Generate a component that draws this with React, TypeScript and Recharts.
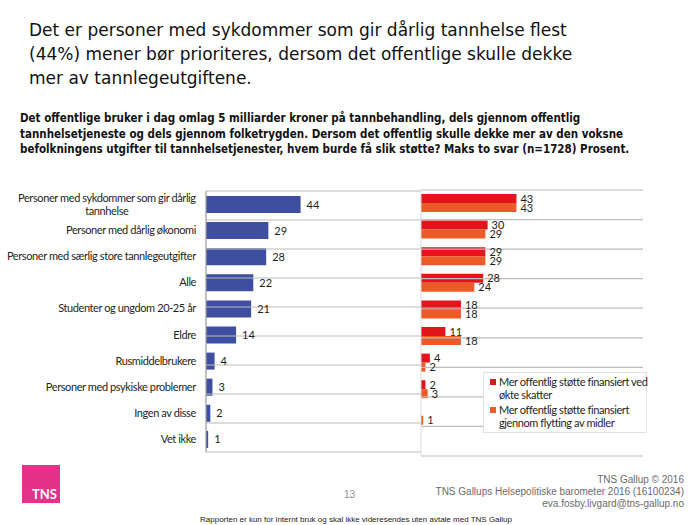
import { BarChart, Bar, XAxis, YAxis, LabelList, Legend, ReferenceLine } from 'recharts';

// kategorier (øverst til nederst)
const categories = [
  'Personer med sykdommer som gir dårlig\ntannhelse',
  'Personer med dårlig økonomi',
  'Personer med særlig store tannlegeutgifter',
  'Alle',
  'Studenter og ungdom 20-25 år',
  'Eldre',
  'Rusmiddelbrukere',
  'Personer med psykiske problemer',
  'Ingen av disse',
  'Vet ikke',
];

// venstre diagram: alle (prosent)
const totalValues = [44, 29, 28, 22, 21, 14, 4, 3, 2, 1];

// høyre diagram: etter finansieringsform
const skatterValues = [43, 30, 29, 28, 18, 11, 4, 2, null, null];
const flyttingValues = [43, 29, 29, 24, 18, 18, 2, 3, 1, null];

const seriesNames = [
  'Mer offentlig støtte finansiert ved\nøkte skatter',
  'Mer offentlig støtte finansiert\ngjennom flytting av midler',
];

const titleLines = [
  'Det er personer med sykdommer som gir dårlig tannhelse flest',
  '(44%) mener bør prioriteres, dersom det offentlige skulle dekke',
  'mer av tannlegeutgiftene.',
];

const subtitleLines = [
  'Det offentlige bruker i dag omlag 5 milliarder kroner på tannbehandling, dels gjennom offentlig',
  'tannhelsetjeneste og dels gjennom folketrygden. Dersom det offentlig skulle dekke mer av den voksne',
  'befolkningens utgifter til tannhelsetjenester, hvem burde få slik støtte? Maks to svar (n=1728) Prosent.',
];

const footerLines = [
  'TNS Gallup © 2016',
  'TNS Gallups Helsepolitiske barometer 2016 (16100234)',
  'eva.fosby.livgard@tns-gallup.no',
];

const leftData = categories.map((name, i) => ({ name, total: totalValues[i] }));
const rightData = categories.map((name, i) => ({
  name,
  skatter: skatterValues[i],
  flytting: flyttingValues[i],
}));
// grenser mellom radene (0 = øverst, 10 = nederst)
const rowBounds = [0, ...categories.map((_c, i) => i + 1)];

const BLUE = '#3e4fa2';
const RED = '#e2141c';
const ORANGE = '#ec5a27';
const GRID = '#bcbcbc';
const LABEL_FONT = 'Lato, "Open Sans", sans-serif';
const LABEL_SIZE = 11;
const LABEL_SPACING = -0.4;

let ctx: CanvasRenderingContext2D | null = null;
function measure(text: string) {
  if (!ctx) ctx = document.createElement('canvas').getContext('2d');
  if (!ctx) return text.length * 5;
  ctx.font = `${LABEL_SIZE}px Lato`;
  (ctx as any).letterSpacing = `${LABEL_SPACING}px`;
  return ctx.measureText(text).width;
}

function CategoryTick({ x, y, payload }: any) {
  const lines = String(payload.value).split('\n');
  const w = Math.max(...lines.map(measure));
  const cx = x - w / 2;
  const lh = 13;
  return (
    <text
      x={cx}
      y={y}
      textAnchor="middle"
      fontFamily={LABEL_FONT}
      fontSize={LABEL_SIZE}
      letterSpacing={LABEL_SPACING}
      fill="#1e1e1e"
    >
      {lines.map((l, i) => (
        <tspan key={i} x={cx} dy={i === 0 ? -((lines.length - 1) * lh) / 2 + 4 : lh}>
          {l}
        </tspan>
      ))}
    </text>
  );
}

const valueLabel = (gap: number) => (props: any) => {
  const { x, y, width, height, value } = props;
  if (value == null) return null;
  return (
    <text
      x={x + width + gap}
      y={y + height / 2}
      dy={4}
      fontFamily={LABEL_FONT}
      fontSize={LABEL_SIZE}
      fill="#1e1e1e"
    >
      {value}
    </text>
  );
};

const gridLines = () =>
  rowBounds.map((b) => <ReferenceLine key={b} y={b} yAxisId="rows" stroke={GRID} strokeWidth={1.2} ifOverflow="extendDomain" />);

function LegendBox() {
  const colors = [RED, ORANGE];
  return (
    <div
      style={{
        background: '#fff',
        border: '1px solid #e2e2e2',
        padding: '2px 2px 3px 6px',
        fontFamily: LABEL_FONT,
        fontSize: LABEL_SIZE,
        letterSpacing: LABEL_SPACING,
        lineHeight: '13px',
        color: '#1e1e1e',
        textAlign: 'left',
      }}
    >
      {seriesNames.map((n, i) => (
        <div key={n} style={{ display: 'flex', marginTop: i ? 2 : 0 }}>
          <span style={{ width: 6, height: 6, background: colors[i], marginTop: 4, marginRight: 3, flex: 'none' }} />
          <span style={{ whiteSpace: 'pre' }}>{n}</span>
        </div>
      ))}
    </div>
  );
}

export default function App() {
  return (
    <div style={{ position: 'absolute', left: 0, top: 0, width: 700, height: 525, background: '#fff', overflow: 'hidden' }}>
      <div style={{ position: 'absolute', left: 29, top: 18, fontFamily: '"DejaVu Sans", Verdana, sans-serif', fontSize: 17, lineHeight: '24px', color: '#111', whiteSpace: 'nowrap' }}>
        {titleLines.map((l) => (
          <div key={l}>{l}</div>
        ))}
      </div>

      <div style={{ position: 'absolute', left: 20, top: 111, fontFamily: '"DejaVu Sans Condensed", "DejaVu Sans", sans-serif', fontWeight: 'bold', fontSize: 11.5, lineHeight: '15.5px', color: '#111', whiteSpace: 'nowrap' }}>
        {subtitleLines.map((l) => (
          <div key={l}>{l}</div>
        ))}
      </div>

      <div style={{ position: 'absolute', left: 0, top: 181 }}>
        <BarChart width={425} height={281} data={leftData} layout="vertical" margin={{ top: 10, right: 4, bottom: 10, left: 0 }}>
          <XAxis type="number" domain={[0, 100]} hide />
          <YAxis
            type="category"
            dataKey="name"
            width={206}
            tickSize={0}
            tickMargin={10}
            tickLine={false}
            axisLine={{ stroke: '#a0a0a0', strokeWidth: 1.3 }}
            tick={<CategoryTick />}
            interval={0}
          />
          <YAxis yAxisId="rows" type="number" domain={[0, categories.length]} reversed hide />
          {gridLines()}
          <Bar dataKey="total" fill={BLUE} barSize={17} isAnimationActive={false}>
            <LabelList dataKey="total" content={valueLabel(6)} />
          </Bar>
        </BarChart>
      </div>

      <div style={{ position: 'absolute', left: 415, top: 180 }}>
        <BarChart width={238} height={286} data={rightData} layout="vertical" barGap={0} margin={{ top: 10, right: 10, bottom: 10, left: 6 }}>
          <XAxis type="number" domain={[0, 100]} hide />
          <YAxis type="category" dataKey="name" hide />
          <YAxis yAxisId="rows" type="number" domain={[0, categories.length]} reversed hide />
          {gridLines()}
          <ReferenceLine x={0} stroke="#dadada" />
          <Bar dataKey="skatter" name={seriesNames[0]} fill={RED} barSize={9} isAnimationActive={false}>
            <LabelList dataKey="skatter" content={valueLabel(4)} />
          </Bar>
          <Bar dataKey="flytting" name={seriesNames[1]} fill={ORANGE} barSize={9} isAnimationActive={false}>
            <LabelList dataKey="flytting" content={valueLabel(4)} />
          </Bar>
          <Legend
            layout="horizontal"
            verticalAlign="middle"
            align="center"
            content={<LegendBox />}
            wrapperStyle={{ left: 68, top: 192, width: 164, height: 56 }}
          />
        </BarChart>
      </div>

      <div style={{ position: 'absolute', left: 22, top: 465, width: 38, height: 38, background: '#e5318a' }}>
        <span style={{ position: 'absolute', right: 3, bottom: 1, color: '#fff', fontFamily: LABEL_FONT, fontWeight: 'bold', fontSize: 13 }}>TNS</span>
      </div>

      <div style={{ position: 'absolute', left: 344, top: 489, fontFamily: '"Liberation Sans", Arial, sans-serif', fontSize: 10, color: '#8a8a8a' }}>13</div>

      <div style={{ position: 'absolute', right: 16, top: 474, textAlign: 'right', fontFamily: '"Liberation Sans", Arial, sans-serif', fontSize: 10, lineHeight: '12px', color: '#6a6a6a', whiteSpace: 'nowrap' }}>
        {footerLines.map((l) => (
          <div key={l}>{l}</div>
        ))}
      </div>

      <div style={{ position: 'absolute', left: 200, top: 515, fontFamily: '"Liberation Sans", Arial, sans-serif', fontSize: 8, color: '#222', whiteSpace: 'nowrap' }}>
        Rapporten er kun for internt bruk og skal ikke videresendes uten avtale med TNS Gallup
      </div>
    </div>
  );
}
